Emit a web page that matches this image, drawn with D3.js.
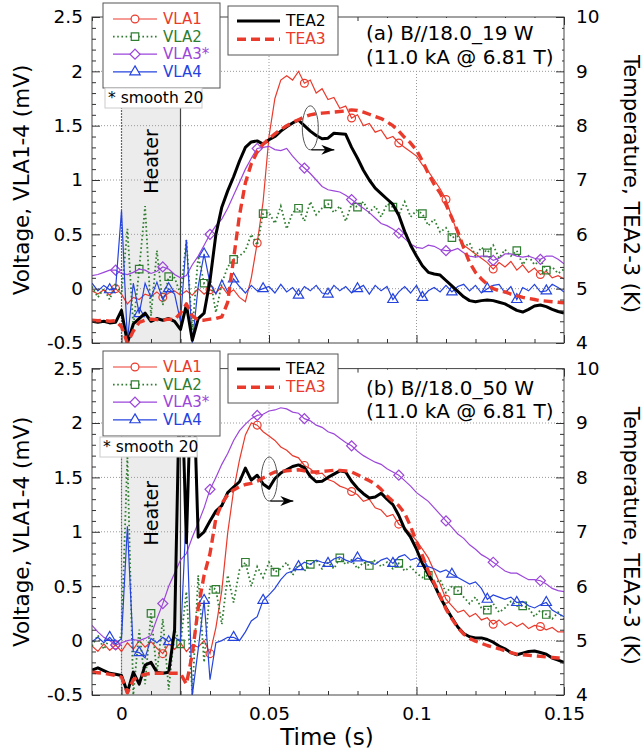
<!DOCTYPE html>
<html>
<head>
<meta charset="utf-8">
<script src="https://cdn.jsdelivr.net/npm/d3@7"></script>
<style>
  body { margin: 0; background: #fff; }
  svg text { font-family: "DejaVu Sans", sans-serif; }
</style>
</head>
<body>
<div id="chart"></div>
<script>
// traces are sampled every 2 ms from -10 ms
var t0 = -0.01, dt = 0.002;

// ---- panel (a) B//18.0_19 W ----
var vla1A = [-0.02,-0.05,-0.01,-0.06,0.00,-0.05,-0.14,-0.08,-0.10,-0.05,
  -0.07,-0.03,-0.08,-0.04,-0.02,-0.06,-0.02,-0.06,0.00,-0.05,
  -0.01,-0.04,0.02,-0.05,-0.01,-0.08,-0.12,0.10,0.42,0.80,
  1.40,1.75,1.92,1.96,1.92,2.00,1.89,1.92,1.80,1.84,
  1.74,1.76,1.66,1.68,1.57,1.60,1.50,1.52,1.44,1.46,
  1.38,1.40,1.34,1.30,1.26,1.22,1.14,1.08,1.00,0.92,
  0.82,0.66,0.50,0.40,0.36,0.32,0.28,0.24,0.18,0.24,
  0.20,0.25,0.17,0.22,0.15,0.19,0.13,0.16,0.10,0.12,0.09];
var vla2A = [0.02,-0.08,0.00,-0.10,0.05,-0.05,0.55,-0.35,0.18,0.76,
  -0.25,0.35,-0.15,0.11,0.10,-0.05,0.45,-0.38,0.30,0.05,
  0.10,-0.22,0.05,0.20,0.27,0.30,0.35,0.50,0.40,0.69,
  0.70,0.60,0.76,0.55,0.70,0.74,0.62,0.80,0.68,0.74,
  0.78,0.70,0.76,0.62,0.78,0.75,0.80,0.70,0.76,0.66,
  0.78,0.75,0.68,0.80,0.66,0.72,0.69,0.58,0.64,0.52,
  0.56,0.47,0.48,0.38,0.42,0.30,0.38,0.33,0.40,0.28,
  0.36,0.30,0.35,0.22,0.30,0.22,0.26,0.17,0.20,0.14,0.18];
var vla3A = [0.12,0.13,0.15,0.17,0.17,0.14,0.13,0.15,0.18,0.17,
  0.14,0.16,0.20,0.18,0.13,0.10,0.12,0.22,0.30,0.40,
  0.50,0.58,0.64,0.74,0.86,0.98,1.10,1.20,1.29,1.30,
  1.31,1.28,1.27,1.29,1.22,1.16,1.11,1.06,1.00,0.94,
  0.91,0.90,0.89,0.86,0.82,0.78,0.74,0.70,0.65,0.60,
  0.58,0.55,0.51,0.46,0.41,0.38,0.37,0.40,0.39,0.36,
  0.35,0.35,0.37,0.33,0.30,0.29,0.30,0.30,0.26,0.28,
  0.32,0.32,0.30,0.29,0.30,0.28,0.27,0.30,0.30,0.27,0.23];
var vla4A = [0.05,-0.02,0.03,-0.01,0.00,0.72,-0.48,0.05,-0.23,0.05,
  -0.08,0.06,-0.10,0.00,-0.05,-0.30,0.45,-0.50,0.02,0.32,
  0.05,-0.05,0.08,-0.03,0.09,0.02,-0.04,0.03,-0.02,0.00,
  0.02,-0.04,0.04,-0.03,0.01,-0.06,0.02,-0.02,0.03,-0.04,
  -0.05,0.03,-0.02,0.02,-0.04,0.00,0.03,-0.05,0.03,-0.02,
  0.02,-0.10,-0.03,0.02,-0.04,0.03,-0.08,-0.02,0.01,-0.03,
  0.03,-0.03,0.02,0.04,-0.02,0.03,-0.04,0.00,0.03,0.04,
  -0.04,0.02,-0.10,0.01,-0.02,0.04,-0.03,-0.02,0.04,0.01,-0.03];
var tea2A = [4.40,4.38,4.40,4.37,4.38,4.60,4.00,4.35,4.45,4.55,
  4.40,4.45,4.42,4.45,4.40,4.25,4.70,4.05,4.45,4.55,
  5.15,6.00,6.50,6.80,7.06,7.35,7.60,7.70,7.72,7.66,
  7.74,7.80,7.90,7.98,8.05,8.10,8.00,7.90,7.82,7.76,
  7.77,7.86,7.85,7.84,7.60,7.40,7.18,7.00,6.85,6.75,
  6.65,6.55,6.35,6.05,5.80,5.60,5.42,5.30,5.27,5.25,
  5.15,5.05,4.95,4.85,4.78,4.76,4.78,4.79,4.78,4.75,
  4.72,4.66,4.60,4.57,4.62,4.68,4.70,4.67,4.62,4.58,4.55];
var tea3A = [4.42,4.41,4.42,4.40,4.41,4.30,4.00,4.22,4.38,4.42,
  4.44,4.43,4.42,4.44,4.43,4.55,4.72,4.50,4.42,4.42,
  4.44,4.45,4.48,4.75,5.55,6.35,6.95,7.30,7.52,7.66,
  7.76,7.85,7.93,8.00,8.06,8.11,8.16,8.20,8.22,8.23,
  8.24,8.25,8.26,8.27,8.29,8.28,8.25,8.21,8.17,8.13,
  8.07,8.00,7.90,7.78,7.68,7.55,7.35,7.12,6.92,6.76,
  6.55,6.30,6.05,5.75,5.48,5.30,5.18,5.08,5.00,4.96,
  4.94,4.90,4.87,4.84,4.82,4.80,4.78,4.77,4.76,4.75,4.74];

// ---- panel (b) B//18.0_50 W ----
var vla1B = [-0.05,-0.10,-0.03,-0.09,-0.04,-0.10,-0.02,-0.08,0.00,-0.06,
  -0.01,-0.07,-0.12,-0.03,-0.08,-0.02,-0.10,-0.04,-0.06,0.00,
  -0.12,0.12,0.46,0.99,1.38,1.66,1.89,2.00,1.98,1.92,
  1.88,1.84,1.78,1.75,1.70,1.68,1.61,1.58,1.53,1.54,
  1.48,1.46,1.42,1.40,1.37,1.34,1.28,1.30,1.22,1.20,
  1.14,1.16,1.07,1.04,0.98,0.92,0.84,0.76,0.64,0.52,
  0.38,0.32,0.26,0.28,0.22,0.25,0.19,0.21,0.15,0.19,
  0.14,0.17,0.13,0.16,0.11,0.14,0.13,0.10,0.12,0.08,0.08];
var vla2B = [-0.05,0.05,-0.08,0.02,-0.05,0.05,1.70,-0.50,0.10,-0.40,
  0.25,-0.30,0.20,-0.45,0.10,-0.03,0.45,-0.50,0.60,-0.20,
  0.50,0.47,0.15,0.60,0.35,0.65,0.72,0.50,0.68,0.58,
  0.72,0.63,0.66,0.72,0.60,0.70,0.64,0.70,0.74,0.66,
  0.72,0.66,0.76,0.70,0.74,0.66,0.72,0.69,0.74,0.68,
  0.72,0.66,0.71,0.64,0.68,0.62,0.58,0.60,0.52,0.56,
  0.44,0.50,0.46,0.40,0.34,0.40,0.30,0.28,0.34,0.26,
  0.30,0.36,0.32,0.32,0.30,0.22,0.28,0.24,0.20,0.26,0.20];
var vla3B = [0.14,0.08,0.03,0.00,-0.04,-0.02,0.00,0.01,0.00,0.02,
  0.05,0.20,0.34,0.50,0.62,0.74,0.80,0.95,1.08,1.22,
  1.39,1.50,1.62,1.72,1.84,1.93,1.99,2.04,2.07,2.08,
  2.11,2.12,2.14,2.13,2.10,2.09,2.04,2.02,1.98,1.96,
  1.92,1.90,1.86,1.82,1.79,1.74,1.70,1.67,1.64,1.62,
  1.58,1.55,1.52,1.47,1.42,1.36,1.32,1.28,1.22,1.16,
  1.10,1.04,0.98,0.94,0.88,0.84,0.79,0.76,0.72,0.68,
  0.64,0.62,0.62,0.59,0.56,0.56,0.55,0.52,0.48,0.46,0.45];
var vla4B = [-0.01,0.03,-0.02,0.03,-0.03,0.02,1.05,-0.10,-0.11,-0.16,
  0.02,-0.02,0.03,-0.01,0.03,-0.01,1.20,-0.50,-0.08,0.37,
  -0.36,-0.02,0.00,0.03,0.03,0.00,0.08,0.18,0.22,0.37,
  0.42,0.48,0.56,0.62,0.64,0.68,0.72,0.70,0.74,0.72,
  0.71,0.75,0.77,0.74,0.72,0.76,0.74,0.72,0.70,0.74,
  0.76,0.71,0.77,0.79,0.74,0.76,0.71,0.68,0.66,0.63,
  0.65,0.61,0.58,0.55,0.52,0.54,0.48,0.38,0.42,0.40,
  0.38,0.40,0.35,0.36,0.32,0.30,0.33,0.35,0.28,0.25,0.22];
var tea2B = [4.46,4.50,4.45,4.40,4.38,4.36,4.05,4.42,4.20,4.55,
  4.60,4.42,4.40,4.42,5.20,10.5,6.80,10.5,6.90,7.00,
  7.20,7.38,7.48,7.72,7.82,7.92,8.17,7.95,8.04,7.88,
  7.80,7.98,8.08,8.14,8.20,8.23,8.18,8.02,7.92,7.93,
  8.00,8.06,8.12,8.10,7.93,7.80,7.70,7.62,7.64,7.71,
  7.60,7.50,7.30,7.05,6.90,6.68,6.42,6.22,6.03,5.80,
  5.60,5.42,5.25,5.13,5.07,5.05,5.05,5.02,4.97,4.90,
  4.85,4.78,4.74,4.77,4.80,4.81,4.78,4.75,4.68,4.64,4.60];
var tea3B = [4.42,4.41,4.40,4.38,4.36,4.33,4.04,4.28,4.35,4.38,
  4.40,4.40,4.40,4.40,4.40,4.40,4.20,4.75,5.60,6.20,
  6.60,7.25,7.52,7.68,7.77,7.83,7.87,7.89,7.93,7.99,
  8.05,8.10,8.11,8.12,8.13,8.14,8.12,8.10,8.10,8.11,
  8.12,8.13,8.13,8.12,8.10,8.05,7.99,7.94,7.88,7.78,
  7.66,7.56,7.48,7.34,7.10,6.82,6.56,6.28,6.06,5.82,
  5.58,5.40,5.24,5.12,5.04,4.99,4.95,4.91,4.88,4.85,
  4.81,4.78,4.75,4.74,4.73,4.72,4.71,4.70,4.69,4.68,4.68];

// times (s) where the symbols sit on each trace
var markVla1 = [-0.002,0.014,0.030,0.046,0.062,0.078,0.094,0.110,0.126,0.142];
var markVla3 = markVla1;
var markVla2A = [0.0058,0.0165,0.0272,0.0379,0.0486,0.0593,0.0700,0.0807,0.0914,0.1021,0.1128,0.1235,0.1342,0.1449];
var markVla4 = [-0.0049,0.0058,0.0165,0.0272,0.0379,0.0486,0.0593,0.0700,0.0807,0.0914,0.1021,0.1128,0.1235,0.1342,0.1449];
var markVla2B = [0.0098,0.0203,0.0325,0.0427,0.0528,0.0632,0.074,0.084,0.094,0.104,0.1148,0.1248,0.1352,0.1448];

var voltTicks = [-0.5,0,0.5,1,1.5,2,2.5];
var tempTicks = [4,5,6,7,8,9,10];
var timeTicks = [0,0.05,0.1,0.15];
var heater = [0,0.02];

var vlaNames = ["VLA1","VLA2","VLA3*","VLA4"];
var teaNames = ["TEA2","TEA3"];
var vlaColors = ["#ea3a2c","#2f7d30","#9c46da","#2544de"];
var teaColors = ["#000000","#ea3a2c"];
var vlaSymbols = [d3.symbolCircle,d3.symbolSquare,d3.symbolSquare,d3.symbolTriangle];
var vlaSymSize = [48,56,50,46];

var width=642, height=751;
var left=92, right=564;

var svg=d3.select("#chart").append("svg")
    .attr("width",width)
    .attr("height",height);

var defs=svg.append("defs");
defs.append("marker")
    .attr("id","arrow")
    .attr("markerUnits","userSpaceOnUse")
    .attr("markerWidth",14).attr("markerHeight",10)
    .attr("refX",13).attr("refY",5)
    .attr("orient","auto")
  .append("path")
    .attr("d","M0,0 L13,5 L0,10 L4,5 Z")
    .attr("fill","#000");

var x=d3.scaleLinear().domain([-0.01,0.15]).range([left,right]);

var panels=[
  {key:"a", top:17, bottom:343,
   vla:[vla1A,vla2A,vla3A,vla4A], tea:[tea2A,tea3A],
   marks:[markVla1,markVla2A,markVla3,markVla4],
   note:["(a) B//18.0_19 W","(11.0 kA @ 6.81 T)"],
   ell:{t:0.064,v:1.48}, leg:3, leg2:6, smooth:[105,88], xLabels:false},
  {key:"b", top:368.6, bottom:695,
   vla:[vla1B,vla2B,vla3B,vla4B], tea:[tea2B,tea3B],
   marks:[markVla1,markVla2B,markVla3,markVla4],
   note:["(b) B//18.0_50 W","(11.0 kA @ 6.81 T)"],
   ell:{t:0.0501,v:1.485}, leg:351, leg2:354, smooth:[100,437], xLabels:true}
];

function minors(lo,hi,step,majors){
  return d3.range(Math.round((hi-lo)/step)+1).map(function(i){return lo+i*step;})
    .filter(function(v){return !majors.some(function(m){return Math.abs(m-v)<step/10;});});
}

function styleAxis(sel,size,keepText){
  sel.select(".domain").remove();
  sel.selectAll(".tick line").attr("stroke","#333");
  sel.attr("font-size",size).attr("fill","#000");
  if(keepText) sel.selectAll("text").attr("fill","#000");
  else sel.selectAll("text").remove();
}

function symPath(k){
  return d3.symbol().type(vlaSymbols[k]).size(vlaSymSize[k])();
}

function fmt(d){ return String(d); }

panels.forEach(function(p){
  var yV=d3.scaleLinear().domain([-0.5,2.5]).range([p.bottom,p.top]);
  var yT=d3.scaleLinear().domain([4,10]).range([p.bottom,p.top]);
  var g=svg.append("g");
  var h=p.bottom-p.top;

  defs.append("clipPath").attr("id","clip-"+p.key)
    .append("rect").attr("x",left).attr("y",p.top).attr("width",right-left).attr("height",h);

  // heater window
  g.append("rect")
    .attr("x",x(heater[0])).attr("y",p.top)
    .attr("width",x(heater[1])-x(heater[0])).attr("height",h)
    .attr("fill","#ececec");

  // dotted grid
  g.selectAll(".hgrid").data(voltTicks.slice(1,-1)).enter().append("line")
    .attr("x1",left).attr("x2",right)
    .attr("y1",function(d){return yV(d);}).attr("y2",function(d){return yV(d);})
    .attr("stroke","#999").attr("stroke-dasharray","1,2");
  g.selectAll(".vgrid").data(timeTicks.slice(1,-1)).enter().append("line")
    .attr("y1",p.top).attr("y2",p.bottom)
    .attr("x1",function(d){return x(d);}).attr("x2",function(d){return x(d);})
    .attr("stroke","#999").attr("stroke-dasharray","1,2");

  g.selectAll(".hedge").data(heater).enter().append("line")
    .attr("y1",p.top).attr("y2",p.bottom)
    .attr("x1",function(d){return x(d);}).attr("x2",function(d){return x(d);})
    .attr("stroke",function(d,i){return i==0?"#666":"#444";})
    .attr("stroke-dasharray",function(d,i){return i==0?"2,1":null;})
    .attr("stroke-width",1.2);

  g.append("text")
    .attr("transform","translate("+x(0.01)+","+yV(1.17)+") rotate(-90)")
    .attr("text-anchor","middle")
    .attr("dominant-baseline","central")
    .attr("font-size",19)
    .text("Heater");

  var plot=g.append("g").attr("clip-path","url(#clip-"+p.key+")");

  p.vla.forEach(function(vals,k){
    var line=d3.line()
      .x(function(d,i){return x(t0+i*dt);})
      .y(function(d){return yV(d);});
    plot.append("path").datum(vals)
      .attr("d",line)
      .attr("fill","none")
      .attr("stroke",vlaColors[k])
      .attr("stroke-width",k==1?1.8:1.2)
      .attr("stroke-dasharray",k==1?"1.6,2.6":null);

    var pts=p.marks[k].map(function(t){
      var i=Math.round((t-t0)/dt);
      return [t0+i*dt, vals[i]];
    });
    plot.selectAll(".m"+k).data(pts).enter().append("path")
      .attr("d",symPath(k))
      .attr("transform",function(d){
        return "translate("+x(d[0])+","+yV(d[1])+")"+(k==2?" rotate(45)":"");
      })
      .attr("fill","none")
      .attr("stroke",vlaColors[k])
      .attr("stroke-width",1.2);
  });

  p.tea.forEach(function(vals,k){
    var line=d3.line()
      .x(function(d,i){return x(t0+i*dt);})
      .y(function(d){return yT(d);});
    plot.append("path").datum(vals)
      .attr("d",line)
      .attr("fill","none")
      .attr("stroke",teaColors[k])
      .attr("stroke-width",k==0?3:3.4)
      .attr("stroke-linejoin","round")
      .attr("stroke-dasharray",k==1?"9,5":null);
  });

  // frame
  g.append("rect")
    .attr("x",left).attr("y",p.top).attr("width",right-left).attr("height",h)
    .attr("fill","none").attr("stroke","#444");

  // axes, ticks inward
  g.append("g").attr("transform","translate("+left+",0)")
    .call(d3.axisLeft(yV).tickValues(voltTicks).tickSize(-8).tickPadding(9).tickFormat(fmt))
    .call(styleAxis,18.5,true);
  g.append("g").attr("transform","translate("+left+",0)")
    .call(d3.axisLeft(yV).tickValues(minors(-0.5,2.5,0.1,voltTicks)).tickSize(-4))
    .call(styleAxis,10,false);
  g.append("g").attr("transform","translate("+right+",0)")
    .call(d3.axisRight(yT).tickValues(tempTicks).tickSize(-8).tickPadding(12).tickFormat(fmt))
    .call(styleAxis,18.5,true);
  g.append("g").attr("transform","translate("+right+",0)")
    .call(d3.axisRight(yT).tickValues(minors(4,10,0.2,tempTicks)).tickSize(-4))
    .call(styleAxis,10,false);
  g.append("g").attr("transform","translate(0,"+p.bottom+")")
    .call(d3.axisBottom(x).tickValues(timeTicks).tickSize(-8).tickPadding(12).tickFormat(fmt))
    .call(styleAxis,18.5,p.xLabels);
  g.append("g").attr("transform","translate(0,"+p.bottom+")")
    .call(d3.axisBottom(x).tickValues(minors(-0.01,0.15,0.01,timeTicks)).tickSize(-4))
    .call(styleAxis,10,false);
  g.append("g").attr("transform","translate(0,"+p.top+")")
    .call(d3.axisTop(x).tickValues(timeTicks).tickSize(-8))
    .call(styleAxis,10,false);
  g.append("g").attr("transform","translate(0,"+p.top+")")
    .call(d3.axisTop(x).tickValues(minors(-0.01,0.15,0.01,timeTicks)).tickSize(-4))
    .call(styleAxis,10,false);

  var mid=(p.top+p.bottom)/2;
  g.append("text")
    .attr("transform","translate(21,"+mid+") rotate(-90)")
    .attr("text-anchor","middle").attr("dominant-baseline","central")
    .attr("font-size",21.5)
    .text("Voltage, VLA1-4 (mV)");
  g.append("text")
    .attr("transform","translate(631,"+(mid+4)+") rotate(90)")
    .attr("text-anchor","middle").attr("dominant-baseline","central")
    .attr("font-size",21)
    .text("Temperature, TEA2-3 (K)");

  // ellipse + arrow pointing to the temperature axis
  var ex=x(p.ell.t), ey=yV(p.ell.v);
  g.append("ellipse")
    .attr("cx",ex).attr("cy",ey).attr("rx",8).attr("ry",22)
    .attr("fill","none").attr("stroke","#555");
  g.append("path")
    .attr("d","M"+(ex+1)+","+(ey+22)+" L"+(ex+24)+","+(ey+22))
    .attr("stroke","#000").attr("stroke-width",1.3)
    .attr("marker-end","url(#arrow)");

  // condition note
  g.append("rect")
    .attr("x",360).attr("y",p.top+1).attr("width",202).attr("height",p.key=="a"?51:52)
    .attr("fill","#fff");
  p.note.forEach(function(s,i){
    g.append("text")
      .attr("x",366).attr("y",p.top+(p.key=="a"?16:19)+i*23.5)
      .attr("dominant-baseline","central")
      .attr("font-size",20)
      .text(s);
  });

  // legend VLA
  var lg=g.append("g").attr("transform","translate(103,"+p.leg+")");
  lg.append("rect").attr("width",117).attr("height",85)
    .attr("fill","#fff").attr("stroke","#555");
  vlaNames.forEach(function(n,k){
    var row=lg.append("g").attr("transform","translate(0,"+(16+k*17.6)+")");
    row.append("line").attr("x1",10).attr("x2",54)
      .attr("stroke",vlaColors[k])
      .attr("stroke-width",k==1?1.8:1.2)
      .attr("stroke-dasharray",k==1?"1.6,2.6":null);
    row.append("path").attr("d",symPath(k))
      .attr("transform","translate(32,0)"+(k==2?" rotate(45)":""))
      .attr("fill","#fff").attr("stroke",vlaColors[k]).attr("stroke-width",1.2);
    row.append("text").attr("x",60).attr("dominant-baseline","central")
      .attr("font-size",15).attr("fill",vlaColors[k]).text(n);
  });

  // legend TEA
  var lg2=g.append("g").attr("transform","translate(228,"+p.leg2+")");
  lg2.append("rect").attr("width",110).attr("height",49)
    .attr("fill","#fff").attr("stroke","#555");
  teaNames.forEach(function(n,k){
    var row=lg2.append("g").attr("transform","translate(0,"+(15+k*18.2)+")");
    row.append("line").attr("x1",9).attr("x2",52)
      .attr("stroke",teaColors[k]).attr("stroke-width",k==0?3:3.4)
      .attr("stroke-dasharray",k==1?"9,5":null);
    row.append("text").attr("x",58).attr("dominant-baseline","central")
      .attr("font-size",15.5).attr("fill",teaColors[k]).text(n);
  });

  var sm=g.append("g").attr("transform","translate("+p.smooth[0]+","+p.smooth[1]+")");
  sm.append("rect").attr("width",97).attr("height",20)
    .attr("fill","#fff").attr("stroke","#ccc");
  sm.append("text").attr("x",3).attr("y",10).attr("dominant-baseline","central")
    .attr("font-size",15.5).text("* smooth 20");
});

svg.append("text")
  .attr("x",327).attr("y",745)
  .attr("text-anchor","middle")
  .attr("font-size",23)
  .text("Time (s)");
</script>
</body>
</html>
